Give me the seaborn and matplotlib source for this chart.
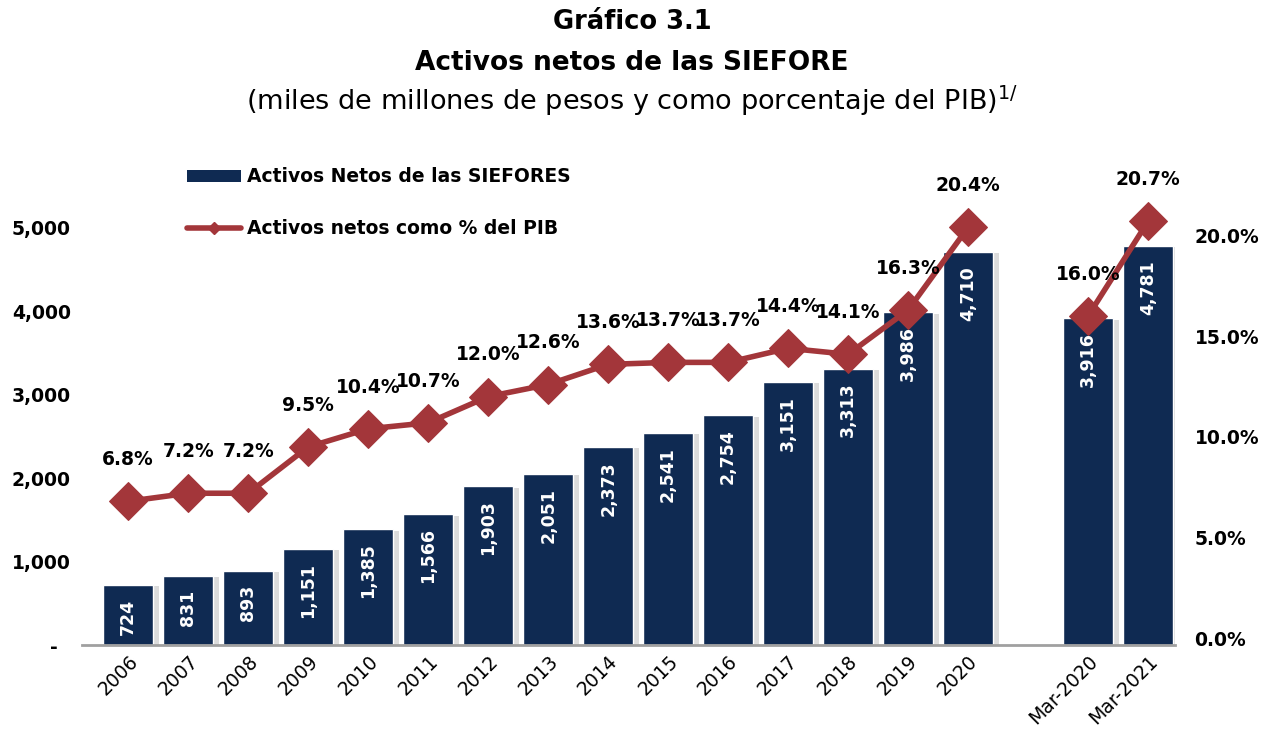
import matplotlib
matplotlib.use('Agg')
import matplotlib.pyplot as plt
import matplotlib.patheffects as pe
from matplotlib.lines import Line2D
from matplotlib.patches import Patch
import seaborn as sns
import pandas as pd

# ---------------- data ----------------
categories = ['2006', '2007', '2008', '2009', '2010', '2011', '2012', '2013',
              '2014', '2015', '2016', '2017', '2018', '2019', '2020',
              'Mar-2020', 'Mar-2021']
assets = [724, 831, 893, 1151, 1385, 1566, 1903, 2051, 2373, 2541, 2754,
          3151, 3313, 3986, 4710, 3916, 4781]
pct_pib = [6.8, 7.2, 7.2, 9.5, 10.4, 10.7, 12.0, 12.6, 13.6, 13.7, 13.7,
           14.4, 14.1, 16.3, 20.4, 16.0, 20.7]
segment = ['anual'] * 15 + ['marzo'] * 2
left_ticks = [0, 1000, 2000, 3000, 4000, 5000]
left_tick_labels = ['-  ', '1,000', '2,000', '3,000', '4,000', '5,000']
right_ticks = [0, 5, 10, 15, 20]
right_tick_labels = ['0.0%', '5.0%', '10.0%', '15.0%', '20.0%']
legend_labels = ['Activos Netos de las SIEFORES', 'Activos netos como % del PIB']

NAVY = '#0f2a52'
RED = '#a3363a'

sns.set_theme(style='white')
plt.rcParams['font.family'] = ['DejaVu Sans']
plt.rcParams['text.color'] = 'black'
plt.rcParams['xtick.color'] = 'black'
plt.rcParams['ytick.color'] = 'black'

# category order with an empty slot between annual and March data
order = categories[:15] + [' '] + categories[15:]
df = pd.DataFrame({'cat': categories, 'assets': assets, 'pct': pct_pib,
                   'seg': segment})
df['pos'] = [order.index(c) for c in categories]

fig = plt.figure(figsize=(12.64, 7.51), dpi=100)
ax = fig.add_axes([0.0649, 0.1411, 0.8647, 0.6112])

sns.barplot(data=df, x='cat', y='assets', order=order, color=NAVY,
            saturation=1, width=0.84, ax=ax)
for p in ax.patches:
    p.set_path_effects([pe.SimplePatchShadow(offset=(4, -1), shadow_rgbFace='#c4c4c4', alpha=0.6),
                        pe.Normal()])

for c, v in zip(categories, assets):
    ax.annotate(f'{v:,}', (order.index(c), v), xytext=(0, -10),
                textcoords='offset points', rotation=90, ha='center', va='top',
                color='white', fontsize=12.5, fontweight='bold')

ax.set_ylim(0, 5500)
ax.set_yticks(left_ticks)
ax.set_yticklabels(left_tick_labels, fontsize=13.5, fontweight='bold')
ax.set_xticks(range(len(order)))
ax.set_xticklabels(order, rotation=45, ha='right', rotation_mode='anchor',
                   fontsize=13.5)
ax.tick_params(axis='x', pad=5, length=0)
ax.tick_params(axis='y', pad=8, length=0)
ax.set_xlabel('')
ax.set_ylabel('')
for s in ['top', 'right', 'left']:
    ax.spines[s].set_visible(False)
ax.spines['bottom'].set_color('#a0a0a0')
ax.spines['bottom'].set_linewidth(2)

ax2 = ax.twinx()
sns.lineplot(data=df, x='pos', y='pct', units='seg', estimator=None,
             color=RED, linewidth=4, marker='D', markersize=19,
             markeredgecolor=RED, ax=ax2, legend=False)
for p, v in zip(df['pos'], pct_pib):
    ax2.annotate(f'{v:.1f}%', (p, v), xytext=(0, 30), textcoords='offset points',
                 ha='center', va='center', fontsize=13.5, fontweight='bold',
                 color='black')
ax2.set_ylim(-0.34, 22.46)
ax2.set_yticks(right_ticks)
ax2.set_yticklabels(right_tick_labels, fontsize=13.5, fontweight='bold')
ax2.tick_params(axis='y', pad=14, length=0)
ax2.set_ylabel('')
for s in ['top', 'right', 'left', 'bottom']:
    ax2.spines[s].set_visible(False)
ax.set_xlim(-0.77, 17.45)

handles = [Patch(facecolor=NAVY, edgecolor='none'),
           Line2D([], [], color=RED, linewidth=4, marker='D', markersize=6)]
fig.legend(handles, legend_labels, loc='upper left',
           bbox_to_anchor=(0.148, 0.777), frameon=False,
           prop={'weight': 'bold', 'size': 13.5}, handlelength=2.9,
           handleheight=0.6, handletextpad=0.3, labelspacing=1.75,
           borderpad=0, borderaxespad=0)

fig.text(0.5, 0.971, 'Gráfico 3.1', ha='center', va='center',
         fontsize=18.5, fontweight='bold')
fig.text(0.5, 0.916, 'Activos netos de las SIEFORE', ha='center', va='center',
         fontsize=19, fontweight='bold')
fig.text(0.5, 0.866, '(miles de millones de pesos y como porcentaje del PIB)$^{1/}$',
         ha='center', va='center', fontsize=19.5)

fig.savefig('out.png', dpi=100)
